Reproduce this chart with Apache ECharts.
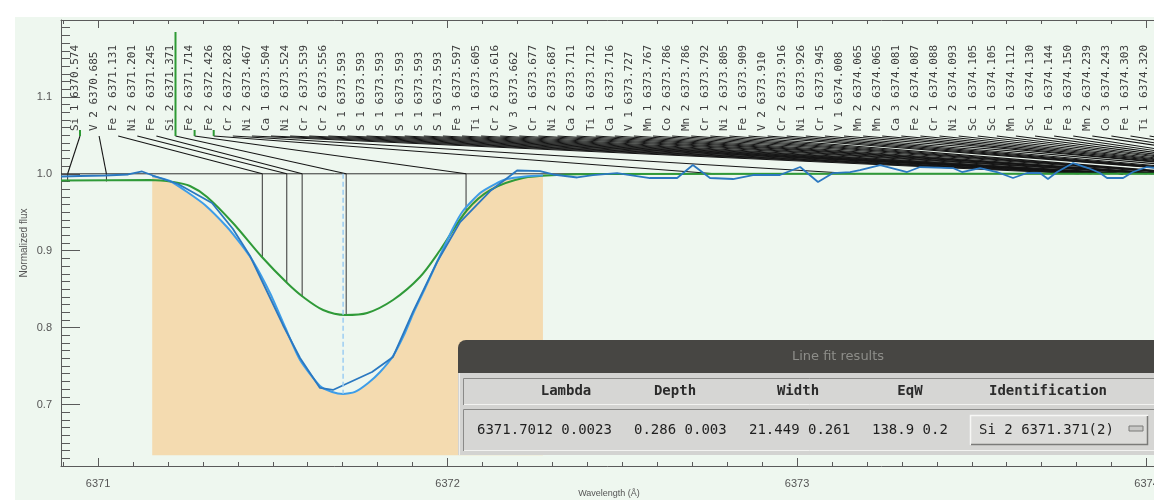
<!DOCTYPE html>
<html><head><meta charset="utf-8">
<script src="https://cdn.jsdelivr.net/npm/echarts@6/dist/echarts.min.js"></script>
<style>html,body{margin:0;padding:0;background:#fff}#c{width:1154px;height:500px}</style>
</head><body><div id="c"></div>
<script>
// ---------------- data ----------------
const xRange = [6370.894, 6374.03];
const yRange = [0.62, 1.2];
const xMajorTicks = [6371, 6372, 6373, 6374];
const yMajorTicks = [0.7, 0.8, 0.9, 1.0, 1.1];

// observed spectrum
const obsWave = [6370.894,6370.948,6371.020,6371.086,6371.126,6371.157,6371.229,6371.326,6371.386,6371.435,
  6371.529,6371.578,6371.635,6371.672,6371.784,6371.844,6371.901,6371.970,6372.036,6372.122,
  6372.199,6372.265,6372.302,6372.371,6372.416,6372.485,6372.579,6372.657,6372.702,6372.751,
  6372.817,6372.874,6372.951,6373.009,6373.060,6373.103,6373.152,6373.180,6373.238,6373.315,
  6373.352,6373.446,6373.472,6373.524,6373.572,6373.618,6373.658,6373.695,6373.718,6373.744,
  6373.790,6373.833,6373.867,6373.887,6373.933,6373.961,6374.001,6374.030];
const obsFlux = [0.9965,0.9971,0.9978,0.9991,1.0030,0.9978,0.9867,0.9620,0.9282,0.8931,
  0.8034,0.7605,0.7215,0.7189,0.7423,0.7618,0.8203,0.8853,0.9373,0.9776,
  1.0043,1.0036,0.9991,0.9952,0.9984,1.0010,0.9945,0.9945,1.0114,0.9945,
  0.9932,0.9984,0.9984,1.0088,0.9893,1.0010,1.0023,1.0049,1.0114,1.0023,
  1.0088,1.0075,1.0023,1.0075,1.0023,0.9945,1.0010,1.0010,0.9932,1.0023,
  1.0140,1.0075,1.0010,0.9945,0.9945,1.0023,1.0088,1.0075];

// fitted profile (also the shaded fit window)
const fitWave = [6371.155,6371.206,6371.255,6371.306,6371.369,6371.406,6371.443,6371.492,6371.535,6371.578,
  6371.635,6371.670,6371.701,6371.735,6371.773,6371.807,6371.844,6371.878,6371.901,6371.936,
  6371.970,6372.016,6372.044,6372.093,6372.136,6372.170,6372.222,6372.273];
const fitFlux = [0.9971,0.9906,0.9763,0.9594,0.9308,0.9100,0.8866,0.8450,0.8008,0.7579,
  0.7241,0.7163,0.7137,0.7163,0.7280,0.7423,0.7631,0.7930,0.8177,0.8515,
  0.8853,0.9295,0.9516,0.9750,0.9867,0.9932,0.9965,0.9978];
const fillBase = 0.634;

// synthetic spectrum
const synWave = [6370.894,6371.149,6371.215,6371.263,6371.312,6371.386,6371.469,6371.541,6371.587,6371.644,
  6371.707,6371.770,6371.844,6371.921,6371.979,6372.056,6372.122,6372.216,6372.313,6372.436,6374.030];
const synFlux = [0.9913,0.9919,0.9893,0.9841,0.9698,0.9360,0.8918,0.8580,0.8398,0.8229,
  0.8164,0.8190,0.8359,0.8658,0.9009,0.9529,0.9789,0.9945,0.9984,0.9997,1.0000];

const continuum = 1.0;
const fitCenter = 6371.7012;
const fitMinFlux = 0.714;
const lineShift = 0.339;

// line identifications
const lineIons = ['Si 1','V 2','Fe 2','Ni 2','Fe 2','Si 2','Fe 2','Fe 2','Cr 2','Ni 2',
  'Ca 1','Ni 2','Cr 2','Cr 2','S 1','S 1','S 1','S 1','S 1','S 1',
  'Fe 3','Ti 1','Cr 2','V 3','Cr 1','Ni 2','Ca 2','Ti 1','Ca 1','V 1',
  'Mn 1','Co 2','Mn 2','Cr 1','Ni 2','Fe 1','V 2','Cr 2','Ni 1','Cr 1',
  'V 1','Mn 2','Mn 2','Ca 3','Fe 2','Cr 1','Ni 2','Sc 1','Sc 1','Mn 1',
  'Sc 1','Fe 1','Fe 3','Mn 2','Co 3','Fe 1','Ti 1'];
const lineWaves = [6370.574,6370.685,6371.131,6371.201,6371.245,6371.371,6371.714,6372.426,6372.828,6373.467,
  6373.504,6373.524,6373.539,6373.556,6373.593,6373.593,6373.593,6373.593,6373.593,6373.593,
  6373.597,6373.605,6373.616,6373.662,6373.677,6373.687,6373.711,6373.712,6373.716,6373.727,
  6373.767,6373.786,6373.786,6373.792,6373.805,6373.909,6373.910,6373.916,6373.926,6373.945,
  6374.008,6374.065,6374.065,6374.081,6374.087,6374.088,6374.093,6374.105,6374.105,6374.112,
  6374.130,6374.144,6374.150,6374.239,6374.243,6374.303,6374.320];
const lineDepth = [0.990,0.990,0.8918,0.858,0.840,0.8164,0.9529];
const selectedLine = 5;
const markedLines = [0, 6, 7];

// fit results panel
const panelTitle = 'Line fit results';
const fitHeaders = ['Lambda','Depth','Width','EqW','Identification'];
const fitValues = ['6371.7012 0.0023','0.286 0.003','21.449 0.261','138.9 0.2'];
const fitIdent = 'Si 2 6371.371(2)';

// ---------------- helpers ----------------
const minorX = [];
for (let k = Math.ceil(xRange[0]*10); k <= Math.floor(xRange[1]*10); k++) minorX.push(k/10);
const minorY = [];
for (let k = Math.ceil(yRange[0]*100+1e-6); k <= Math.floor(yRange[1]*100-1e-6); k++) minorY.push(k/100);

const pair = (w, f) => w.map((v, i) => [v, f[i]]);
const axisColor = '#5a5a5a';

function xAx(pos, ticks, len, major) {
  return {
    type: 'value', min: xRange[0], max: xRange[1], position: pos,
    axisLine: { show: major, onZero: false, lineStyle: { color: axisColor, width: 1 } },
    axisTick: { show: true, inside: true, length: len, customValues: ticks, lineStyle: { color: axisColor } },
    axisLabel: major && pos === 'bottom' ? { show: true, customValues: ticks, formatter: v => String(Math.round(v)),
      color: '#555', fontSize: 11, fontFamily: 'Liberation Sans', margin: 12 } : { show: false },
    splitLine: { show: false },
    name: major && pos === 'bottom' ? 'Wavelength (Å)' : '',
    nameLocation: 'middle', nameGap: 23, nameMoveOverlap: false,
    nameTextStyle: { color: '#555', fontSize: 9, fontFamily: 'Liberation Sans' }
  };
}
function yAx(ticks, len, major) {
  return {
    type: 'value', min: yRange[0], max: yRange[1], position: 'left',
    axisLine: { show: major, onZero: false, lineStyle: { color: axisColor, width: 1 } },
    axisTick: { show: true, inside: true, length: len, customValues: ticks, lineStyle: { color: axisColor } },
    axisLabel: major ? { show: true, customValues: ticks, formatter: v => v.toFixed(1),
      color: '#555', fontSize: 11, fontFamily: 'Liberation Sans', margin: 9 } : { show: false },
    splitLine: { show: false },
    name: major ? 'Normalized flux' : '',
    nameLocation: 'middle', nameGap: 32, nameMoveOverlap: false,
    nameTextStyle: { color: '#555', fontSize: 10, fontFamily: 'Liberation Sans' }
  };
}

function renderLineId(params, api) {
  const i = api.value(2);
  const cs = params.coordSys;
  const lx = cs.x + 14 + i * 19.1;
  const w = lineWaves[i] + lineShift;
  const pTop = api.coord([w, continuum]);
  const sx = lx + 5, sy = cs.y + 116;
  const ch = [];
  ch.push({ type: 'line', shape: { x1: sx, y1: sy, x2: pTop[0], y2: pTop[1] },
    style: { stroke: '#151515', lineWidth: 1.1 } });
  if (i < lineDepth.length) {
    const pBot = api.coord([w, lineDepth[i]]);
    ch.push({ type: 'line', shape: { x1: pTop[0], y1: pTop[1], x2: pBot[0], y2: pBot[1] },
      style: { stroke: '#333', lineWidth: 1 } });
  }
  if (i === selectedLine) {
    ch.push({ type: 'line', shape: { x1: sx, y1: cs.y + 12, x2: sx, y2: sy }, style: { stroke: '#2e9a35', lineWidth: 2 } });
  } else if (markedLines.indexOf(i) >= 0) {
    ch.push({ type: 'line', shape: { x1: sx, y1: cs.y + 110, x2: sx, y2: sy }, style: { stroke: '#2e9a35', lineWidth: 2 } });
  }
  ch.push({ type: 'text', x: lx, y: cs.y + 111, rotation: Math.PI / 2,
    style: { text: lineIons[i] + ' ' + lineWaves[i].toFixed(3), fill: '#3d3d3d',
      fontSize: 11, fontFamily: 'DejaVu Sans Mono', align: 'left', verticalAlign: 'middle' } });
  return { type: 'group', children: ch };
}

function renderFill(params, api) {
  const pts = fitWave.map((w, k) => api.coord([w, fitFlux[k]]));
  pts.push(api.coord([fitWave[fitWave.length - 1], fillBase]));
  pts.push(api.coord([fitWave[0], fillBase]));
  return { type: 'polygon', shape: { points: pts }, style: { fill: '#f4dbb0' } };
}

// panel graphics (pixel layout)
const mono = '"DejaVu Sans Mono"';
const headerX = [566, 675, 798, 910, 1048];
const valueX = [477, 634, 749, 872];
const panel = [
  { type: 'rect', z: -100, shape: { x: 15, y: 17, width: 1139, height: 483 }, style: { fill: '#eef7ef' } },
  { type: 'rect', z: 100, shape: { x: 458, y: 340, width: 720, height: 34, r: [8, 0, 0, 0] }, style: { fill: '#474643' } },
  { type: 'text', z: 101, x: 838, y: 357, style: { text: panelTitle, fill: '#8e8e8a', fontSize: 13, fontFamily: 'DejaVu Sans', align: 'center', verticalAlign: 'middle' } },
  { type: 'rect', z: 100, shape: { x: 458, y: 373, width: 720, height: 82 }, style: { fill: '#d3d3d1' } },
  { type: 'line', z: 101, shape: { x1: 459.5, y1: 373, x2: 459.5, y2: 455 }, style: { stroke: '#eeeeec', lineWidth: 1 } },
  // header box
  { type: 'rect', z: 101, shape: { x: 463, y: 378, width: 720, height: 27 }, style: { fill: '#d6d6d4' } },
  { type: 'polyline', z: 102, shape: { points: [[463.5, 405], [463.5, 378.5], [1160, 378.5]] }, style: { stroke: '#8a8a88', lineWidth: 1, fill: null } },
  { type: 'line', z: 102, shape: { x1: 464, y1: 404.5, x2: 1160, y2: 404.5 }, style: { stroke: '#f2f2f0', lineWidth: 1 } },
  // values box
  { type: 'rect', z: 101, shape: { x: 463, y: 409, width: 720, height: 42 }, style: { fill: '#d6d6d4' } },
  { type: 'polyline', z: 102, shape: { points: [[463.5, 451], [463.5, 409.5], [1160, 409.5]] }, style: { stroke: '#8a8a88', lineWidth: 1, fill: null } },
  { type: 'line', z: 102, shape: { x1: 464, y1: 450.5, x2: 1160, y2: 450.5 }, style: { stroke: '#f2f2f0', lineWidth: 1 } },
  // option button
  { type: 'rect', z: 103, shape: { x: 970, y: 415, width: 178, height: 30 }, style: { fill: '#dcdcda' } },
  { type: 'polyline', z: 104, shape: { points: [[970.5, 445], [970.5, 415.5], [1148, 415.5]] }, style: { stroke: '#f7f7f5', lineWidth: 1.5, fill: null } },
  { type: 'polyline', z: 104, shape: { points: [[971, 444.5], [1147.5, 444.5], [1147.5, 416]] }, style: { stroke: '#7b7b79', lineWidth: 1.5, fill: null } },
  { type: 'rect', z: 105, shape: { x: 1129, y: 426, width: 14, height: 5 }, style: { fill: '#c8c8c6', stroke: '#7b7b79', lineWidth: 1 } },
  { type: 'text', z: 105, x: 979, y: 430, style: { text: fitIdent, fill: '#1f1f1f', fontSize: 14, fontFamily: mono, align: 'left', verticalAlign: 'middle' } }
];
fitHeaders.forEach((t, k) => panel.push({ type: 'text', z: 103, x: headerX[k], y: 391,
  style: { text: t, fill: '#2b2b2b', fontSize: 14, fontWeight: 'bold', fontFamily: mono, align: 'center', verticalAlign: 'middle' } }));
fitValues.forEach((t, k) => panel.push({ type: 'text', z: 103, x: valueX[k], y: 430,
  style: { text: t, fill: '#1f1f1f', fontSize: 14, fontFamily: mono, align: 'left', verticalAlign: 'middle' } }));

// ---------------- chart ----------------
const chart = echarts.init(document.getElementById('c'), null, { renderer: 'canvas' });
chart.setOption({
  backgroundColor: 'transparent',
  animation: false,
  grid: { left: 61, top: 20, right: -3, bottom: 34, containLabel: false, outerBoundsMode: 'none' },
  xAxis: [xAx('bottom', xMajorTicks, 8, true), xAx('bottom', minorX, 4, false),
          xAx('top', xMajorTicks, 8, true), xAx('top', minorX, 4, false)],
  yAxis: [yAx(yMajorTicks, 19, true), yAx(minorY, 9, false)],
  graphic: { elements: panel },
  series: [
    { type: 'custom', name: 'fit window', silent: true, z: 1, clip: true,
      data: [[fitWave[0], fillBase]], renderItem: renderFill },
    { type: 'line', name: 'continuum', silent: true, z: 2, symbol: 'none',
      data: [[xRange[0], continuum], [xRange[1], continuum]],
      lineStyle: { color: '#333', width: 1 } },
    { type: 'custom', name: 'line ids', silent: true, z: 3, clip: true,
      data: lineWaves.map((w, i) => [w + lineShift, i < lineDepth.length ? lineDepth[i] : continuum, i]),
      encode: { x: 0, y: 1 }, renderItem: renderLineId },
    { type: 'line', name: 'synthetic', z: 4, symbol: 'none', smooth: 0.3,
      data: pair(synWave, synFlux), lineStyle: { color: '#2f9a38', width: 2 } },
    { type: 'line', name: 'fit', z: 5, symbol: 'none', smooth: 0.2,
      data: pair(fitWave, fitFlux), lineStyle: { color: '#3d9de8', width: 2 } },
    { type: 'line', name: 'observed', z: 6, symbol: 'none',
      data: pair(obsWave, obsFlux), lineStyle: { color: '#2b78c0', width: 1.8 } },
    { type: 'line', name: 'center', z: 7, symbol: 'none',
      data: [[fitCenter, continuum], [fitCenter, fitMinFlux]],
      lineStyle: { color: '#9ccdf3', width: 1.5, type: [5, 3] } }
  ]
});
</script>
</body></html>
